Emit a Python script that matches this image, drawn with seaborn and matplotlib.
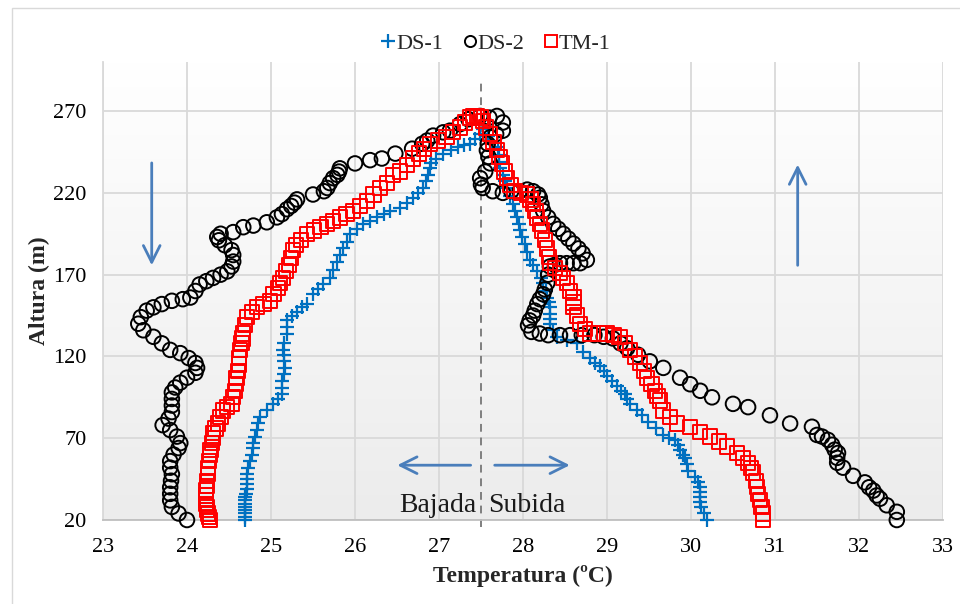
import numpy as np
import pandas as pd
import matplotlib
matplotlib.use("Agg")
import matplotlib.pyplot as plt
import seaborn as sns
from matplotlib.lines import Line2D
from matplotlib.patches import Rectangle
from matplotlib.colors import LinearSegmentedColormap

# ---------------- data ----------------
ds1_temp = [24.69, 24.69, 24.69, 24.69, 24.69, 24.69, 24.69, 24.69, 24.70, 24.71, 24.71, 24.71, 24.71,
            24.73, 24.75, 24.77, 24.79, 24.79, 24.81, 24.83, 24.85, 24.87, 24.95, 25.02, 25.08, 25.13,
            25.13, 25.13, 25.15, 25.17, 25.16, 25.15, 25.14, 25.16, 25.19, 25.19, 25.19, 25.25, 25.31,
            25.37, 25.43, 25.50, 25.56, 25.62, 25.70, 25.74, 25.79, 25.82, 25.86, 25.90, 25.94, 26.02,
            26.10, 26.18, 26.26, 26.34, 26.42, 26.54, 26.62, 26.69, 26.75, 26.81, 26.84, 26.87, 26.89,
            26.90, 26.97, 27.05, 27.14, 27.23, 27.30, 27.37, 27.43, 27.49, 27.52,
            27.58, 27.61, 27.70, 27.71, 27.72, 27.73, 27.76, 27.79, 27.81, 27.84, 27.88, 27.91, 27.93,
            27.95, 27.96, 27.99, 28.02, 28.05, 28.08, 28.12, 28.17, 28.21, 28.24, 28.27, 28.29, 28.31,
            28.32, 28.32, 28.32, 28.32, 28.36, 28.40, 28.52, 28.64, 28.72, 28.80, 28.86, 28.92, 28.96,
            29.00, 29.06, 29.12, 29.17, 29.21, 29.24, 29.27, 29.36, 29.42, 29.49, 29.58, 29.67, 29.74,
            29.81, 29.84, 29.87, 29.90, 29.93, 29.95, 29.96, 30.05, 30.08, 30.11, 30.11, 30.11, 30.11,
            30.12, 30.15, 30.19]
ds1_alt = [20, 22, 24, 26, 28, 30, 32, 34, 36, 39, 42, 45, 48,
           52, 56, 60, 64, 67, 71, 75, 79, 83, 87, 91, 94, 97,
           101, 105, 109, 113, 117, 121, 124, 128, 134, 138, 142, 145, 147,
           150, 152, 158, 161, 164, 168, 173, 178, 182, 186, 190, 195, 198,
           201, 203, 205, 207, 209, 211, 214, 217, 220, 223, 227, 231, 235,
           238, 241, 244, 246, 248, 249, 250, 253, 256, 259,
           255, 252, 248, 243, 239, 235, 231, 227, 223, 218, 213, 209, 205,
           201, 197, 193, 189, 184, 179, 176, 172, 168, 165, 160, 156, 153,
           150, 146, 143, 140, 136, 132, 130, 128, 123, 119, 116, 114, 111,
           108, 105, 102, 99, 97, 94, 91, 87, 84, 80, 76, 72, 70,
           69, 66, 63, 60, 58, 54, 50, 46, 43, 40, 37, 34, 31,
           28, 24, 20]

ds2_temp = [24.00, 23.90, 23.82, 23.80, 23.80, 23.80, 23.81, 23.82, 23.80, 23.80, 23.84, 23.90, 23.92,
            23.88, 23.80, 23.71, 23.78, 23.82, 23.82, 23.82, 23.82, 23.86, 23.92, 24.00, 24.10, 24.12,
            24.10, 24.02, 23.92, 23.80, 23.70, 23.60, 23.48, 23.42, 23.45, 23.52, 23.60, 23.70, 23.82,
            23.95, 24.04, 24.10, 24.15, 24.23, 24.31, 24.40, 24.48, 24.53, 24.55, 24.55, 24.53, 24.45,
            24.38, 24.36, 24.40, 24.55, 24.67, 24.79, 24.95, 25.07, 25.13, 25.19, 25.24, 25.28, 25.31,
            25.50, 25.63, 25.67, 25.70, 25.74, 25.79, 25.81, 25.82, 26.00, 26.18, 26.32, 26.48, 26.68,
            26.80, 26.86, 26.93, 27.05, 27.13, 27.25, 27.35, 27.49, 27.60, 27.69, 27.76, 27.76, 27.68,
            27.61, 27.58, 27.57, 27.59, 27.61, 27.55, 27.49, 27.50, 27.52, 27.64, 27.76, 27.86, 27.96,
            28.05, 28.12, 28.18, 28.20, 28.22, 28.24, 28.30, 28.36, 28.42, 28.48, 28.54, 28.60, 28.66,
            28.71, 28.76, 28.68, 28.60, 28.52, 28.44, 28.38, 28.32, 28.30, 28.29, 28.26, 28.24, 28.20,
            28.17, 28.14, 28.12, 28.08, 28.06, 28.10, 28.20, 28.30, 28.44, 28.56, 28.70, 28.85, 28.96,
            29.07, 29.16, 29.24, 29.37, 29.51, 29.67, 29.87, 29.99, 30.11, 30.25, 30.50, 30.68, 30.94,
            31.18, 31.44, 31.50, 31.56, 31.63, 31.68, 31.71, 31.75, 31.74, 31.74, 31.81, 31.93, 32.07,
            32.12, 32.17, 32.21, 32.25, 32.33, 32.45, 32.45]
ds2_alt = [20, 24, 28, 32, 36, 40, 44, 48, 52, 56, 60, 64, 67,
           71, 75, 78, 82, 86, 90, 94, 98, 101, 104, 107, 110, 113,
           116, 119, 122, 124, 128, 132, 136, 140, 144, 148, 150, 152, 154,
           155, 156, 160, 164, 166, 168, 170, 172, 175, 178, 182, 185, 188,
           191, 193, 195, 196, 199, 200, 202, 205, 207, 210, 212, 214, 216,
           219, 221, 223, 226, 229, 231, 233, 235, 238, 240, 241, 244, 247,
           250, 252, 255, 257, 258, 262, 265, 267, 266, 267, 263, 258, 256,
           254, 250, 246, 242, 238, 233, 229, 225, 223, 221, 220, 221, 221,
           222, 221, 219, 217, 213, 209, 205, 201, 198, 195, 192, 189, 186,
           183, 179, 177, 177, 177, 177, 176, 175, 170, 165, 161, 158, 155,
           152, 148, 145, 142, 139, 135, 134, 133, 133, 133, 133, 133, 132,
           131, 128, 125, 121, 117, 113, 107, 103, 99, 95, 91, 89, 84,
           79, 77, 72, 71, 69, 66, 63, 61, 58, 55, 52, 47, 43,
           40, 38, 35, 33, 29, 25, 20]

tm1_temp = [24.27, 24.26, 24.25, 24.24, 24.24, 24.23, 24.23, 24.23, 24.23, 24.24, 24.24, 24.25, 24.25,
            24.26, 24.27, 24.28, 24.30, 24.31, 24.31, 24.34, 24.37, 24.40, 24.43, 24.48, 24.53, 24.55,
            24.57, 24.58, 24.59, 24.61, 24.62, 24.62, 24.63, 24.65, 24.66, 24.67, 24.69, 24.71, 24.77,
            24.83, 24.91, 24.99, 25.03, 25.08, 25.11, 25.14, 25.18, 25.21, 25.24, 25.26, 25.30, 25.36,
            25.43, 25.51, 25.59, 25.67, 25.74, 25.82, 25.90, 25.98, 26.06, 26.14, 26.22, 26.30, 26.38,
            26.45, 26.54, 26.62, 26.69, 26.76, 26.82, 26.89, 26.99, 27.09, 27.17, 27.25, 27.31, 27.37,
            27.41, 27.45, 27.50, 27.52, 27.56, 27.61, 27.65, 27.69, 27.72, 27.75, 27.78, 27.81, 27.85,
            27.90, 27.98, 28.05, 28.09, 28.12, 28.15, 28.17, 28.20, 28.23, 28.26, 28.29, 28.31, 28.32,
            28.38, 28.44, 28.48, 28.52, 28.56, 28.60, 28.60, 28.60, 28.64, 28.68, 28.74, 28.80, 28.90,
            29.00, 29.08, 29.15, 29.21, 29.27, 29.33, 29.39, 29.44, 29.48, 29.53, 29.57, 29.60, 29.63,
            29.67, 29.75, 29.83, 29.99, 30.11, 30.23, 30.33, 30.43, 30.55, 30.62, 30.68, 30.71, 30.74,
            30.77, 30.79, 30.80, 30.82, 30.84, 30.86, 30.86]
tm1_alt = [20, 22, 24, 26, 28, 30, 32, 35, 38, 41, 44, 48, 52,
           56, 60, 63, 67, 70, 73, 76, 79, 83, 87, 89, 91, 95,
           99, 103, 107, 111, 115, 119, 124, 128, 131, 134, 139, 144, 147,
           150, 152, 154, 158, 162, 165, 168, 172, 176, 180, 185, 188, 191,
           195, 197, 199, 201, 203, 205, 207, 209, 212, 215, 219, 223, 226,
           231, 233, 237, 241, 244, 247, 250, 252, 254, 257, 260, 263, 266,
           267, 267, 266, 264, 260, 256, 251, 246, 242, 238, 233, 229, 225,
           221, 220, 219, 216, 213, 209, 205, 201, 197, 191, 186, 181, 177,
           174, 171, 168, 165, 160, 156, 153, 150, 145, 140, 137, 134, 134,
           134, 133, 132, 128, 124, 120, 116, 111, 107, 103, 99, 96, 93,
           87, 83, 79, 77, 74, 71, 68, 65, 61, 58, 55, 52, 49,
           44, 40, 36, 32, 28, 24, 20]

series_names = ["DS-1", "DS-2", "TM-1"]
x_ticks = [23, 24, 25, 26, 27, 28, 29, 30, 31, 32, 33]
y_ticks = [20, 70, 120, 170, 220, 270]

# ---------------- figure ----------------
sns.set_theme(style="white")
plt.rcParams["font.family"] = ["Liberation Serif", "DejaVu Serif"]

W, H = 960, 604
fig = plt.figure(figsize=(W / 100, H / 100), dpi=100)
fig.patch.set_facecolor("white")
# outer chart frame (only top and left edges visible)
fig.add_artist(Rectangle((12 / W, -0.01), 1.2, 1 - 8 / H + 0.01, transform=fig.transFigure,
                         fill=False, edgecolor="#d9d9d9", lw=1.0))

ax = fig.add_axes([103 / W, 84 / H, 840 / W, 458 / H])

# gradient plot-area background
grad = np.linspace(0, 1, 256).reshape(-1, 1)
cmap = LinearSegmentedColormap.from_list("bg", ["#ffffff", "#ececec"])
ax.imshow(grad, extent=[23, 33, 20, 300], aspect="auto", cmap=cmap, origin="upper",
          zorder=-2, interpolation="bilinear")

df = pd.concat([
    pd.DataFrame({"Temperatura": ds1_temp, "Altura": ds1_alt, "Serie": series_names[0]}),
    pd.DataFrame({"Temperatura": ds2_temp, "Altura": ds2_alt, "Serie": series_names[1]}),
    pd.DataFrame({"Temperatura": tm1_temp, "Altura": tm1_alt, "Serie": series_names[2]}),
])

specs = {
    "DS-1": dict(marker="+", color="#0070C0", s=95, lw=1.6, filled=True),
    "DS-2": dict(marker="o", color="#000000", s=110, lw=1.4, filled=False),
    "TM-1": dict(marker="s", color="#FF0000", s=105, lw=1.4, filled=False),
}
for name in series_names:
    sp = specs[name]
    sub = df[df["Serie"] == name]
    sns.scatterplot(data=sub, x="Temperatura", y="Altura", marker=sp["marker"], s=sp["s"],
                    color=sp["color"], linewidth=sp["lw"], ax=ax, legend=False, zorder=3)
    coll = ax.collections[-1]
    coll.set_edgecolor(sp["color"])
    coll.set_facecolor(sp["color"] if sp["filled"] else "none")
    coll.set_linewidth(sp["lw"])
    coll.set_clip_on(False)

# dashed reference line
ax.vlines(27.5, 15.5, 287, colors="#7f7f7f", linestyles=(0, (4, 3)), lw=1.4, zorder=2, clip_on=False)

# arrows
arrow_kw = dict(arrowstyle="->,head_length=1.0,head_width=0.5", color="#4a7ebb", lw=2.0)
ax.annotate("", xy=(23.58, 174), xytext=(23.58, 240), arrowprops=arrow_kw, zorder=4)
ax.annotate("", xy=(31.27, 239), xytext=(31.27, 174), arrowprops=arrow_kw, zorder=4)
ax.annotate("", xy=(26.47, 53.5), xytext=(27.41, 53.5), arrowprops=arrow_kw, zorder=4)
ax.annotate("", xy=(28.59, 53.5), xytext=(27.63, 53.5), arrowprops=arrow_kw, zorder=4)
ax.text(27.45, 29, "Bajada", ha="right", va="center", fontsize=20, color="#1a1a1a", zorder=4)
ax.text(27.59, 29, "Subida", ha="left", va="center", fontsize=20, color="#1a1a1a", zorder=4)

# axes styling
ax.set_xlim(23, 33)
ax.set_ylim(20, 300)
ax.set_xticks(x_ticks)
ax.set_yticks(y_ticks)
ax.set_xticklabels([str(t) for t in x_ticks], fontsize=16)
ax.set_yticklabels([str(t) for t in y_ticks], fontsize=16)
ax.tick_params(axis="x", length=0, pad=13, colors="#000000")
ax.tick_params(axis="y", length=0, pad=12, colors="#000000")
ax.set_axisbelow(True)
ax.grid(True, color="#d9d9d9", lw=1.3)
for side in ["top", "right"]:
    ax.spines[side].set_visible(False)
ax.spines["left"].set_color("#d9d9d9")
ax.spines["left"].set_linewidth(1.3)
ax.spines["bottom"].set_color("#bfbfbf")
ax.spines["bottom"].set_linewidth(1.3)
ax.set_xlabel("Temperatura (ºC)", fontsize=17, fontweight="bold", labelpad=6)
ax.set_ylabel("Altura (m)", fontsize=17, fontweight="bold", labelpad=2)

# legend
handles = [
    Line2D([], [], ls="", marker="+", color="#0070C0", markersize=10, mew=1.6),
    Line2D([], [], ls="", marker="o", mfc="none", mec="#000000", markersize=8, mew=1.4),
    Line2D([], [], ls="", marker="s", mfc="none", mec="#FF0000", markersize=9, mew=1.4),
]
fig.legend(handles, series_names, loc="center", bbox_to_anchor=(496 / W, 1 - 44 / H), ncol=3,
           frameon=False, fontsize=16, handlelength=0.6, handletextpad=0.05, columnspacing=0.9)

fig.savefig("out.png", dpi=100)
